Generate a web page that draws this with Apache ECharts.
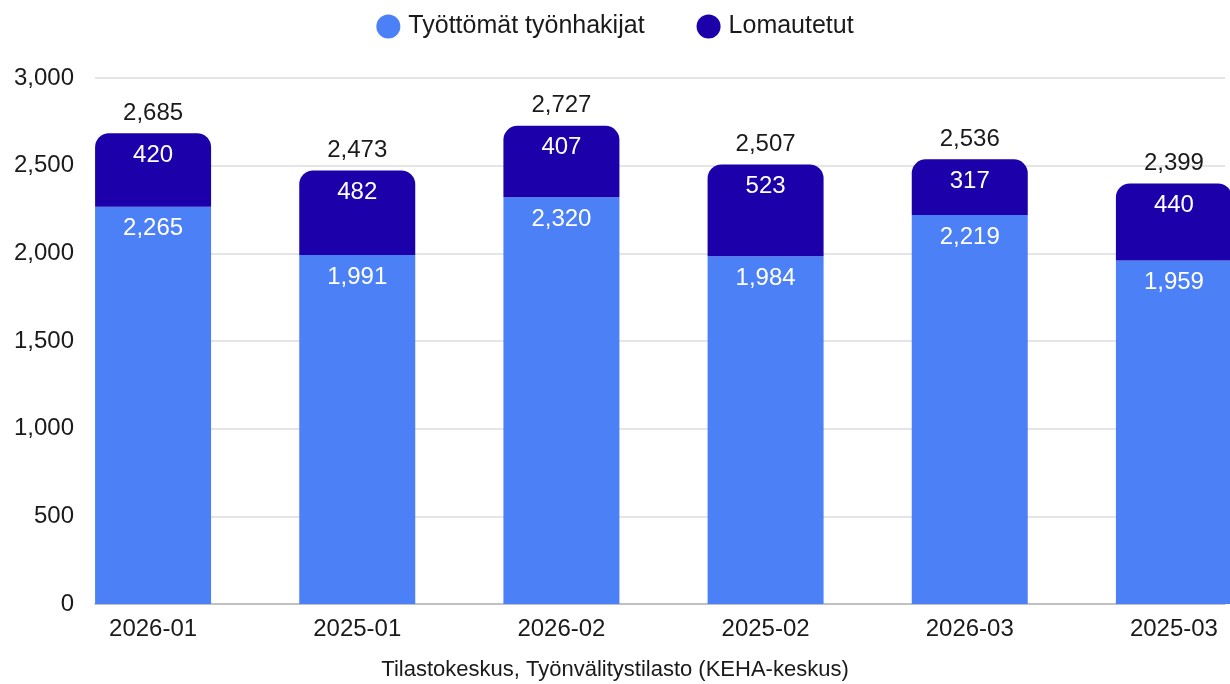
<!DOCTYPE html>
<html>
<head>
    <meta charset="utf-8">
    <title>Työnhakijat</title>
    <script src="https://cdn.jsdelivr.net/npm/echarts@6/dist/echarts.min.js"></script>
    <style>
        html, body { margin: 0; padding: 0; background: #fff; }
    </style>
</head>
<body>
    <div id="main" style="width: 1230px;height:684px;"></div>
    <script>
        var months = ['2026-01', '2025-01', '2026-02', '2025-02', '2026-03', '2025-03'];
        var tyottomat = [2265, 1991, 2320, 1984, 2219, 1959];
        var lomautetut = [420, 482, 407, 523, 317, 440];
        var yTicks = [0, 3000, 500];

        var totals = tyottomat.map(function (v, i) { return v + lomautetut[i]; });
        var fmt = function (v) { return Number(v).toLocaleString('en-US'); };
        var font = 'Liberation Sans';

        var myChart = echarts.init(document.getElementById('main'));

        var option = {
            animation: false,
            textStyle: { fontFamily: font },
            title: {
                text: 'Tilastokeskus, Työnvälitystilasto (KEHA-keskus)',
                left: 'center',
                top: 654,
                textStyle: { fontSize: 22, fontWeight: 'normal', color: '#1a1a1a', fontFamily: font }
            },
            legend: {
                data: ['Työttömät työnhakijat', 'Lomautetut'],
                top: 9,
                left: 'center',
                icon: 'circle',
                itemWidth: 24,
                itemHeight: 24,
                itemGap: 52,
                textStyle: { fontSize: 25, color: '#1a1a1a', fontFamily: font, padding: [0, 0, 0, 3] }
            },
            grid: [
                { left: 51, top: 78, width: 1225, bottom: 80, outerBoundsMode: 'none' },
                { left: 95, top: 78, right: 5, bottom: 80, outerBoundsMode: 'none' }
            ],
            xAxis: [{
                gridIndex: 0,
                type: 'category',
                data: months,
                axisLine: { show: false },
                axisTick: { show: false },
                axisLabel: { margin: 13, fontSize: 24, color: '#1a1a1a', fontFamily: font }
            }, {
                gridIndex: 1,
                type: 'category',
                data: [''],
                axisLine: { lineStyle: { color: '#b5b5b5', width: 1.5 } },
                axisTick: { show: false },
                axisLabel: { show: false }
            }],
            yAxis: [{
                gridIndex: 0,
                type: 'value',
                min: yTicks[0],
                max: yTicks[1],
                interval: yTicks[2],
                show: false
            }, {
                gridIndex: 1,
                type: 'value',
                min: yTicks[0],
                max: yTicks[1],
                interval: yTicks[2],
                axisLine: { show: false },
                axisTick: { show: false },
                splitLine: { lineStyle: { color: '#dcdcdc', width: 1.5 } },
                axisLabel: {
                    margin: 21,
                    fontSize: 24,
                    color: '#1a1a1a',
                    fontFamily: font,
                    formatter: fmt
                }
            }],
            series: [{
                name: 'Työttömät työnhakijat',
                type: 'bar',
                stack: 'total',
                barWidth: 116,
                xAxisIndex: 0,
                yAxisIndex: 0,
                itemStyle: { color: '#4c80f6' },
                label: {
                    show: true,
                    position: 'insideTop',
                    distance: 10,
                    color: '#fff',
                    fontSize: 24,
                    fontFamily: font,
                    formatter: function (p) { return fmt(p.value); }
                },
                data: tyottomat
            }, {
                name: 'Lomautetut',
                type: 'bar',
                stack: 'total',
                barWidth: 116,
                xAxisIndex: 0,
                yAxisIndex: 0,
                itemStyle: { color: '#1c00aa', borderRadius: [14, 14, 0, 0] },
                label: {
                    show: true,
                    position: 'insideTop',
                    distance: 10,
                    color: '#fff',
                    fontSize: 24,
                    fontFamily: font,
                    formatter: function (p) { return fmt(p.value); }
                },
                data: lomautetut
            }, {
                name: 'Yhteensä',
                type: 'bar',
                stack: 'total',
                barWidth: 116,
                xAxisIndex: 0,
                yAxisIndex: 0,
                itemStyle: { color: 'transparent' },
                label: {
                    show: true,
                    position: 'top',
                    distance: 8,
                    color: '#1a1a1a',
                    fontSize: 24,
                    fontFamily: font,
                    formatter: function (p) { return fmt(totals[p.dataIndex]); }
                },
                tooltip: { show: false },
                data: totals.map(function () { return 0; })
            }]
        };

        myChart.setOption(option);
    </script>
</body>
</html>
